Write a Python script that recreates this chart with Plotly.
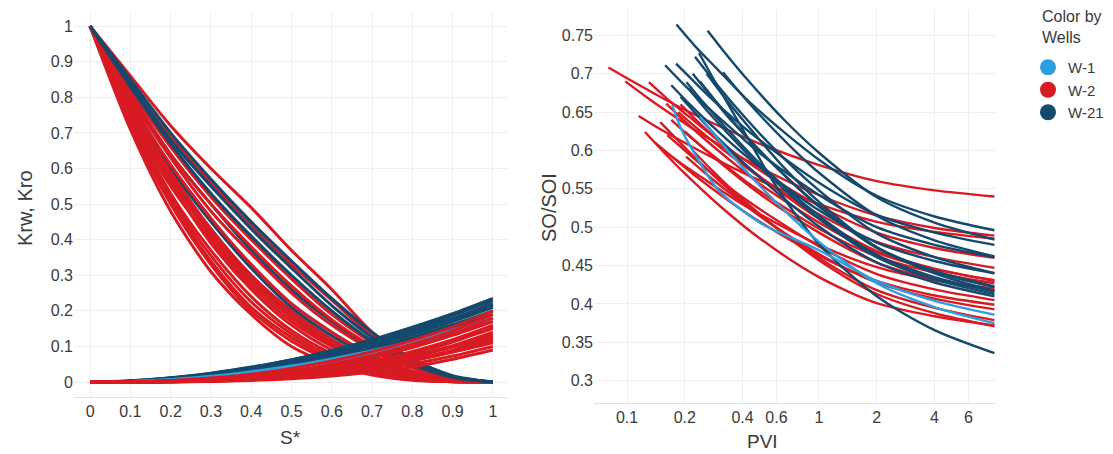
import plotly.graph_objects as go

# ---------------- data: left panel (relative permeability vs S*) ----------------
S_GRID = [0.0, 0.1, 0.2, 0.3, 0.4, 0.5, 0.6, 0.7, 0.8, 0.9, 1.0]

KRO_W21 = [
    [1, .85, .70, .57, .45, .34, .235, .14, .065, .018, 0],
    [1, .84, .68, .55, .43, .32, .215, .125, .055, .015, 0],
    [1, .83, .67, .53, .41, .30, .20, .115, .05, .013, 0],
    [1, .81, .64, .50, .37, .26, .17, .095, .042, .01, 0],
    [1, .79, .60, .45, .32, .21, .13, .07, .03, .007, 0],
    [1, .77, .58, .42, .29, .19, .11, .055, .022, .005, 0],
]
KRW_W21 = [
    [0, .003, .011, .024, .041, .063, .089, .119, .154, .192, .235],
    [0, .003, .011, .023, .040, .061, .086, .116, .149, .187, .228],
    [0, .0022, .0088, .020, .035, .055, .079, .108, .141, .178, .22],
    [0, .0034, .012, .025, .042, .062, .086, .113, .144, .178, .215],
    [0, .002, .0084, .019, .034, .053, .076, .103, .134, .170, .21],
    [0, .0016, .0068, .016, .029, .047, .068, .095, .126, .161, .20],
    [0, .0015, .0065, .015, .028, .044, .065, .09, .119, .153, .19],
]
KRO_W1 = [
    [1, .79, .61, .46, .33, .22, .14, .075, .03, .007, 0],
    [1, .775, .59, .43, .30, .20, .12, .06, .025, .005, 0],
]
KRW_W1 = [
    [0, .0018, .0072, .016, .029, .045, .065, .088, .115, .146, .18],
    [0, .0013, .0058, .0135, .025, .040, .058, .081, .107, .137, .17],
]
KRO_W2 = [
    [1, .86, .72, .60, .49, .37, .26, .14, .06, .015, 0],
    [1, .84, .69, .56, .44, .33, .23, .13, .055, .013, 0],
    [1, .82, .66, .52, .40, .29, .19, .11, .05, .012, 0],
    [1, .81, .64, .50, .38, .27, .175, .10, .045, .012, 0],
    [1, .80, .63, .48, .36, .25, .16, .09, .04, .01, 0],
    [1, .79, .61, .46, .33, .22, .14, .075, .03, .007, 0],
    [1, .78, .59, .43, .30, .20, .12, .06, .025, .005, 0],
    [1, .775, .58, .42, .29, .19, .112, .055, .022, .004, 0],
    [1, .77, .57, .41, .28, .18, .105, .05, .02, .004, 0],
    [1, .76, .56, .39, .26, .16, .09, .045, .016, .003, 0],
    [1, .75, .55, .40, .27, .17, .10, .05, .02, .004, 0],
    [1, .745, .53, .37, .24, .145, .08, .035, .012, .002, 0],
    [1, .735, .52, .355, .225, .135, .072, .032, .01, .0015, 0],
    [1, .73, .51, .34, .21, .125, .065, .028, .008, .001, 0],
    [1, .72, .50, .33, .20, .115, .06, .025, .007, .001, 0],
    [1, .71, .48, .31, .19, .10, .05, .02, .005, .001, 0],
]
KRW_W2 = [
    [0, .0008, .0042, .011, .022, .038, .059, .085, .117, .155, .20],
    [0, .0005, .0029, .0084, .017, .031, .050, .075, .106, .144, .19],
    [0, .0004, .0023, .007, .015, .028, .045, .069, .098, .135, .18],
    [0, .0005, .003, .0084, .017, .030, .047, .070, .097, .131, .17],
    [0, .0003, .0018, .0054, .012, .023, .038, .059, .086, .119, .16],
    [0, .0001, .0011, .0037, .009, .018, .032, .051, .078, .112, .155],
    [0, .0004, .0023, .0066, .0138, .025, .040, .059, .084, .114, .15],
    [0, .0001, .0011, .0038, .009, .0175, .030, .048, .072, .102, .14],
    [0, .0002, .0013, .004, .0095, .018, .031, .048, .071, .10, .135],
    [0, .0003, .0017, .0051, .011, .020, .033, .050, .071, .098, .13],
    [0, .0001, .0007, .0026, .0066, .0136, .024, .040, .061, .089, .125],
    [0, .0002, .0013, .0041, .0092, .017, .029, .044, .064, .089, .12],
    [0, .0001, .0009, .0031, .0074, .0144, .025, .039, .059, .084, .115],
    [0, .0003, .0017, .0048, .010, .018, .029, .044, .062, .084, .11],
    [0, .0001, .0008, .0027, .0064, .0125, .0216, .034, .051, .073, .10],
    [0, 0, .0004, .0017, .0044, .0092, .0167, .028, .043, .064, .09],
]

# ---------------- data: right panel (SO/SOI vs PVI) ----------------
PVI_W2 = [
    [.080, .10, .128, .20, .5, 1, 2, 4, 8.2],
    [.098, .1225, .157, .245, .5, 1, 2, 4, 8.2],
    [.130, .1625, .208, .325, .5, 1, 2, 4, 8.2],
    [.124, .155, .198, .31, .5, 1, 2, 4, 8.2],
    [.149, .186, .238, .3725, .5, 1, 2, 4, 8.2],
    [.160, .20, .256, .40, .5, 1, 2, 4, 8.2],
    [.203, .254, .325, .5075, 1, 2, 4, 8.2],
    [.162, .2025, .259, .405, 1, 2, 4, 8.2],
    [.185, .231, .296, .4625, 1, 2, 4, 8.2],
    [.140, .175, .224, .35, .5, 1, 2, 4, 8.2],
    [.170, .2125, .272, .425, 1, 2, 4, 8.2],
    [.200, .25, .32, .5, 1, 2, 4, 8.2],
    [.115, .144, .184, .2875, .5, 1, 2, 4, 8.2],
    [.190, .2375, .304, .475, 1, 2, 4, 8.2],
    [.220, .275, .352, .55, 1, 2, 4, 8.2],
    [.155, .194, .248, .3875, .5, 1, 2, 4, 8.2],
]
SO_W2 = [
    [.708, .694, .679, .653, .608, .581, .560, .548, .540],
    [.690, .672, .653, .621, .577, .542, .515, .499, .489],
    [.689, .667, .645, .606, .573, .528, .493, .473, .460],
    [.624, .598, .571, .526, .484, .435, .401, .384, .372],
    [.637, .612, .585, .540, .514, .460, .418, .395, .379],
    [.661, .638, .614, .574, .555, .506, .467, .445, .431],
    [.592, .571, .549, .512, .465, .428, .407, .393],
    [.620, .599, .576, .538, .475, .439, .419, .405],
    [.650, .629, .607, .570, .517, .481, .461, .447],
    [.610, .590, .568, .532, .506, .463, .430, .411, .399],
    [.640, .618, .596, .558, .498, .462, .441, .427],
    [.625, .603, .580, .542, .493, .454, .432, .418],
    [.645, .630, .615, .589, .560, .530, .507, .494, .485],
    [.660, .636, .611, .569, .511, .469, .446, .430],
    [.600, .575, .549, .507, .457, .413, .388, .371],
    [.600, .582, .564, .532, .516, .477, .448, .431, .420],
]
PVI_W21 = [
    [.181, .226, .29, .4525, 1, 2, 4, 8.2],
    [.263, .329, .421, .6575, 1, 2, 4, 8.2],
    [.158, .1975, .253, .395, .5, 1, 2, 4, 8.2],
    [.180, .225, .288, .45, 1, 2, 4, 8.2],
    [.226, .2825, .362, .565, 1, 2, 4, 8.2],
    [.237, .296, .379, .5925, 1, 2, 4, 8.2],
    [.220, .275, .352, .55, 1, 2, 4, 8.2],
    [.204, .255, .326, .51, 1, 2, 4, 8.2],
    [.316, .395, .506, .79, 1, 2, 4, 8.2],
    [.210, .2625, .336, .525, 1, 2, 4, 8.2],
    [.190, .2375, .304, .475, 1, 2, 4, 8.2],
    [.240, .30, .384, .60, 1, 2, 4, 8.2],
    [.170, .2125, .272, .425, 1, 2, 4, 8.2],
    [.260, .325, .416, .65, 1, 2, 4, 8.2],
]
SO_W21 = [
    [.764, .736, .708, .659, .588, .541, .514, .496],
    [.756, .725, .693, .640, .597, .539, .506, .484],
    [.711, .686, .660, .617, .595, .542, .500, .477, .461],
    [.713, .689, .663, .621, .558, .516, .493, .477],
    [.722, .691, .659, .606, .548, .492, .461, .440],
    [.727, .684, .638, .555, .478, .410, .366, .336],
    [.700, .670, .638, .587, .527, .474, .443, .423],
    [.689, .660, .630, .579, .515, .464, .435, .416],
    [.702, .673, .643, .594, .571, .515, .483, .462],
    [.680, .651, .622, .572, .511, .461, .432, .413],
    [.670, .643, .614, .568, .501, .454, .428, .410],
    [.690, .660, .629, .578, .528, .473, .442, .422],
    [.685, .660, .634, .591, .522, .480, .456, .440],
    [.700, .668, .635, .579, .533, .474, .440, .417],
]
PVI_W1 = [
    [.172, .19, .22, .30, .5, 1, 2, 4, 8.2],
    [.240, .30, .384, .60, 1, 2, 4, 8.2],
]
SO_W1 = [
    [.659, .630, .600, .548, .505, .470, .430, .404, .386],
    [.644, .614, .583, .532, .481, .427, .396, .375],
]

WELLS = ["W-1", "W-2", "W-21"]
COLORS = {"W-1": "#2b9fe0", "W-2": "#d81b23", "W-21": "#13496d"}

S_TICKS = [0, 0.1, 0.2, 0.3, 0.4, 0.5, 0.6, 0.7, 0.8, 0.9, 1]
S_TICK_TEXT = ["0", "0.1", "0.2", "0.3", "0.4", "0.5", "0.6", "0.7", "0.8", "0.9", "1"]
SO_TICKS = [0.3, 0.35, 0.4, 0.45, 0.5, 0.55, 0.6, 0.65, 0.7, 0.75]
SO_TICK_TEXT = ["0.3", "0.35", "0.4", "0.45", "0.5", "0.55", "0.6", "0.65", "0.7", "0.75"]
PVI_TICKS = [0.1, 0.2, 0.4, 0.6, 1, 2, 4, 6]
PVI_TICK_TEXT = ["0.1", "0.2", "0.4", "0.6", "1", "2", "4", "6"]

fig = go.Figure()


def add_line(x, y, well, width, xa, ya):
    fig.add_trace(go.Scatter(
        x=x, y=y, mode="lines", showlegend=False, hoverinfo="skip",
        line=dict(color=COLORS[well], width=width, shape="spline", smoothing=0.8),
        xaxis=xa, yaxis=ya))


# left panel drawing order: lower W-21 Kro under the red, upper W-21 Kro on top
for kro in KRO_W1:
    add_line(S_GRID, kro, "W-1", 3, "x", "y")
for kro in KRO_W21[3:]:
    add_line(S_GRID, kro, "W-21", 3, "x", "y")
for kro in KRO_W2:
    add_line(S_GRID, kro, "W-2", 3, "x", "y")
for kro in KRO_W21[:3]:
    add_line(S_GRID, kro, "W-21", 3, "x", "y")
for krw in KRW_W21:
    add_line(S_GRID, krw, "W-21", 3, "x", "y")
for krw in KRW_W1:
    add_line(S_GRID, krw, "W-1", 3, "x", "y")
for krw in KRW_W2:
    add_line(S_GRID, krw, "W-2", 3, "x", "y")

# right panel
for px_, so in zip(PVI_W2, SO_W2):
    add_line(px_, so, "W-2", 2.4, "x2", "y2")
for px_, so in zip(PVI_W21, SO_W21):
    add_line(px_, so, "W-21", 2.4, "x2", "y2")
for px_, so in zip(PVI_W1, SO_W1):
    add_line(px_, so, "W-1", 2.4, "x2", "y2")

# legend entries
for w in WELLS:
    fig.add_trace(go.Scatter(x=[None], y=[None], mode="markers", name=w,
                             marker=dict(size=17, color=COLORS[w]),
                             xaxis="x2", yaxis="y2"))

GRID = "#eeeeee"
axis_common = dict(showgrid=True, gridcolor=GRID, gridwidth=1, zeroline=False,
                   ticks="", tickfont=dict(size=16, color="#3a3a3a"), automargin=False)

TXT = "#3a3a3a"
fig.update_layout(
    width=1113, height=454,
    margin=dict(l=0, r=0, t=0, b=0, autoexpand=False),
    paper_bgcolor="white", plot_bgcolor="white",
    font=dict(family="Liberation Sans, Arial, sans-serif", size=16, color=TXT),
    xaxis=dict(domain=[0.0665, 0.4555], range=[-0.04, 1.035], tickvals=S_TICKS,
               ticktext=S_TICK_TEXT, anchor="y", showline=True, linecolor="#e2e2e2",
               **axis_common),
    yaxis=dict(domain=[0.1256, 0.9714], range=[-0.042, 1.037], tickvals=S_TICKS,
               ticktext=S_TICK_TEXT, anchor="x", showline=False, **axis_common),
    xaxis2=dict(domain=[0.5337, 0.894], type="log", range=[-1.172, 0.917],
                tickvals=PVI_TICKS, ticktext=PVI_TICK_TEXT, anchor="y2",
                showline=True, linecolor="#e2e2e2", **axis_common),
    yaxis2=dict(domain=[0.1123, 0.978], range=[0.271, 0.783], tickvals=SO_TICKS,
                ticktext=SO_TICK_TEXT, anchor="x2", showline=False, **axis_common),
    legend=dict(x=1028 / 1113, y=(454 - 51) / 454, xanchor="left", yanchor="top",
                font=dict(size=15, color=TXT), bgcolor="rgba(0,0,0,0)",
                itemsizing="trace", tracegroupgap=0),
    annotations=[
        dict(text="Krw, Kro", x=25 / 1113, y=(454 - 208) / 454, xref="paper", yref="paper",
             showarrow=False, textangle=-90, font=dict(size=20), xanchor="center", yanchor="middle"),
        dict(text="S*", x=290 / 1113, y=(454 - 437) / 454, xref="paper", yref="paper",
             showarrow=False, font=dict(size=19), xanchor="center", yanchor="middle"),
        dict(text="SO/SOI", x=549 / 1113, y=(454 - 208) / 454, xref="paper", yref="paper",
             showarrow=False, textangle=-90, font=dict(size=20), xanchor="center", yanchor="middle"),
        dict(text="PVI", x=762 / 1113, y=(454 - 441) / 454, xref="paper", yref="paper",
             showarrow=False, font=dict(size=19), xanchor="center", yanchor="middle"),
        dict(text="Color by<br>Wells", x=1040 / 1113, y=(454 - 6) / 454, xref="paper", yref="paper",
             showarrow=False, font=dict(size=16), xanchor="left", yanchor="top", align="left"),
    ],
)

fig.write_html("out.html")
